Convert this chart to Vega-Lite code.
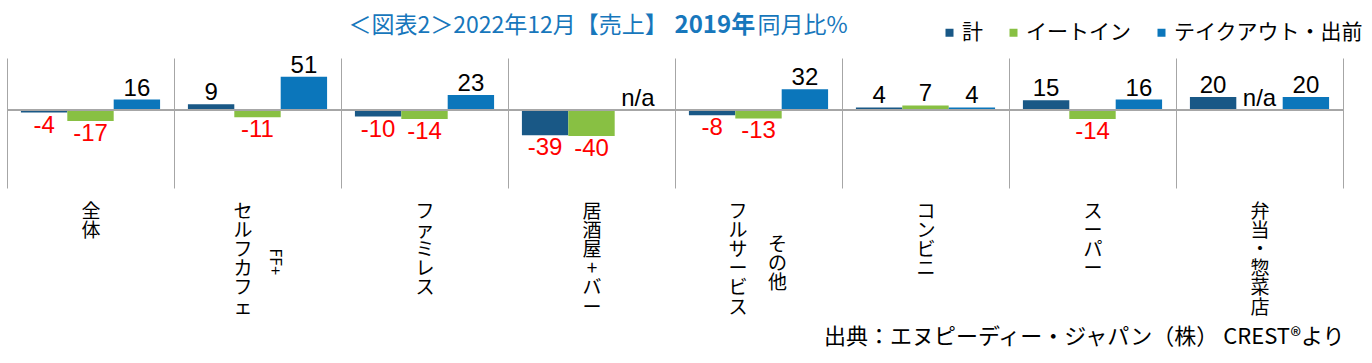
{
  "$schema": "https://vega.github.io/schema/vega-lite/v6.json",
  "width": 1336,
  "height": 130,
  "autosize": {"type": "none"},
  "padding": {"left": 7, "top": 58, "right": 29, "bottom": 175},
  "background": "white",
  "config": {"view": {"stroke": null}, "font": "Noto Sans CJK JP"},
  "data": {
    "values": [
      {"cat": "全体", "series": "計", "value": -4},
      {"cat": "全体", "series": "イートイン", "value": -17},
      {"cat": "全体", "series": "テイクアウト・出前", "value": 16},
      {"cat": "FF+セルフカフェ", "series": "計", "value": 9},
      {"cat": "FF+セルフカフェ", "series": "イートイン", "value": -11},
      {"cat": "FF+セルフカフェ", "series": "テイクアウト・出前", "value": 51},
      {"cat": "ファミレス", "series": "計", "value": -10},
      {"cat": "ファミレス", "series": "イートイン", "value": -14},
      {"cat": "ファミレス", "series": "テイクアウト・出前", "value": 23},
      {"cat": "居酒屋+バー", "series": "計", "value": -39},
      {"cat": "居酒屋+バー", "series": "イートイン", "value": -40},
      {"cat": "居酒屋+バー", "series": "テイクアウト・出前", "value": null},
      {"cat": "その他フルサービス", "series": "計", "value": -8},
      {"cat": "その他フルサービス", "series": "イートイン", "value": -13},
      {"cat": "その他フルサービス", "series": "テイクアウト・出前", "value": 32},
      {"cat": "コンビニ", "series": "計", "value": 4},
      {"cat": "コンビニ", "series": "イートイン", "value": 7},
      {"cat": "コンビニ", "series": "テイクアウト・出前", "value": 4},
      {"cat": "スーパー", "series": "計", "value": 15},
      {"cat": "スーパー", "series": "イートイン", "value": -14},
      {"cat": "スーパー", "series": "テイクアウト・出前", "value": 16},
      {"cat": "弁当・惣菜店", "series": "計", "value": 20},
      {"cat": "弁当・惣菜店", "series": "イートイン", "value": null},
      {"cat": "弁当・惣菜店", "series": "テイクアウト・出前", "value": 20}
    ]
  },
  "transform": [
    {"calculate": "datum.value == null ? 'n/a' : '' + datum.value", "as": "txt"},
    {"calculate": "datum.value == null ? 0 : datum.value", "as": "ypos"}
  ],
  "layer": [
    {
      "mark": {"type": "bar"},
      "encoding": {
        "x": {
          "field": "cat", "type": "nominal", "sort": null,
          "scale": {"paddingInner": 0, "paddingOuter": 0},
          "axis": {
            "orient": "bottom",
            "title": "出典：エヌピーディー・ジャパン（株） CREST®より",
            "titleFont": "Noto Sans CJK JP",
            "titleFontSize": 22,
            "titleFontWeight": "normal",
            "titleColor": "#000000",
            "titleX": 1337,
            "titleY": 155,
            "titleAlign": "right",
            "titleBaseline": "alphabetic",
            "titleAngle": 0,
            "domain": false,
            "ticks": false,
            "grid": true,
            "gridColor": "#a6a6a6",
            "gridWidth": 1,
            "tickBand": "extent",
            "labelAngle": 0,
            "labelAlign": "center",
            "labelBaseline": "top",
            "labelFont": "Noto Sans CJK JP",
            "labelFontSize": 19,
            "labelLineHeight": 19.2,
            "labelPadding": 14,
            "labelColor": "#000000",
            "labelOverlap": false,
            "labelLimit": 0,
            "labelBound": false,
            "labelExpr": "split(replace(replace(datum.label, 'FF+', ''), 'その他', ''), '')",
            "labelOffset": {
              "condition": [
                {"test": "datum.value == 'FF+セルフカフェ'", "value": -15},
                {"test": "datum.value == 'その他フルサービス'", "value": -21}
              ],
              "value": 0
            }
          }
        },
        "xOffset": {
          "field": "series", "type": "nominal",
          "sort": ["計", "イートイン", "テイクアウト・出前"],
          "scale": {"paddingInner": 0, "paddingOuter": 0.3}
        },
        "y": {
          "field": "value", "type": "quantitative",
          "scale": {"domain": [-120, 80], "nice": false},
          "axis": {
            "orient": "left",
            "domain": false, "ticks": false, "labels": false, "grid": false,
            "title": "2019年",
            "titleAngle": 0,
            "titleX": 667,
            "titleY": -26,
            "titleAlign": "left",
            "titleBaseline": "alphabetic",
            "titleFont": "Noto Sans CJK JP",
            "titleFontSize": 24,
            "titleFontWeight": "bold",
            "titleColor": "#1777BC"
          }
        },
        "color": {
          "field": "series", "type": "nominal",
          "scale": {"domain": ["計", "イートイン", "テイクアウト・出前"], "range": ["#195886", "#88C043", "#0B76BB"]},
          "legend": {
            "orient": "none",
            "legendX": 932,
            "legendY": -36,
            "direction": "horizontal",
            "title": null,
            "symbolType": "square",
            "symbolSize": 64,
            "symbolStrokeWidth": 0,
            "labelFont": "Noto Sans CJK JP",
            "labelFontSize": 21,
            "labelColor": "#000000",
            "labelOffset": 2,
            "columnPadding": 20,
            "padding": 0,
            "labelLimit": 0
          }
        }
      }
    },
    {
      "transform": [{"filter": "datum.value == null || datum.value >= 0"}],
      "mark": {"type": "text", "baseline": "alphabetic", "dy": -4, "font": "Liberation Sans", "fontSize": 24, "color": "#000000"},
      "encoding": {
        "x": {
          "field": "cat", "type": "nominal", "sort": null,
          "axis": {
            "orient": "bottom",
            "title": null, "domain": false, "ticks": false, "grid": false,
            "labelExpr": "datum.label == 'FF+セルフカフェ' ? 'FF+' : ''",
            "labelAngle": 90,
            "labelAlign": "left",
            "labelBaseline": "middle",
            "labelFont": "Noto Sans CJK JP",
            "labelFontSize": 16,
            "labelPadding": 60,
            "labelOffset": 17,
            "labelOverlap": false,
            "labelBound": false,
            "labelColor": "#000000"
          }
        },
        "xOffset": {"field": "series", "type": "nominal", "sort": ["計", "イートイン", "テイクアウト・出前"]},
        "y": {
          "field": "ypos", "type": "quantitative",
          "axis": {
            "orient": "right",
            "domain": false, "ticks": false, "labels": false, "grid": false,
            "title": "同月比%",
            "titleAngle": 0,
            "titleX": -586,
            "titleY": -26,
            "titleAlign": "left",
            "titleBaseline": "alphabetic",
            "titleFont": "Noto Sans CJK JP",
            "titleFontSize": 23,
            "titleFontWeight": "normal",
            "titleColor": "#1777BC"
          }
        },
        "text": {"field": "txt", "type": "nominal"}
      }
    },
    {
      "transform": [{"filter": "datum.value < 0"}],
      "mark": {"type": "text", "baseline": "top", "dy": 1, "font": "Liberation Sans", "fontSize": 24, "color": "#FF0000"},
      "encoding": {
        "x": {
          "field": "cat", "type": "nominal", "sort": null,
          "axis": {
            "orient": "bottom",
            "title": "＜図表2＞2022年12月【売上】",
            "titleFont": "Noto Sans CJK JP",
            "titleFontSize": 23,
            "titleFontWeight": "normal",
            "titleColor": "#1777BC",
            "titleX": 341,
            "titleY": -156,
            "titleAlign": "left",
            "titleBaseline": "alphabetic",
            "titleAngle": 0,
            "domain": false, "ticks": false, "grid": false,
            "labelExpr": "datum.label == 'その他フルサービス' ? split('その他', '') : ''",
            "labelAngle": 0,
            "labelAlign": "center",
            "labelBaseline": "top",
            "labelFont": "Noto Sans CJK JP",
            "labelFontSize": 19,
            "labelLineHeight": 19.2,
            "labelPadding": 47,
            "labelOffset": 19,
            "labelOverlap": false,
            "labelBound": false,
            "labelColor": "#000000"
          }
        },
        "xOffset": {"field": "series", "type": "nominal", "sort": ["計", "イートイン", "テイクアウト・出前"]},
        "y": {"field": "ypos", "type": "quantitative", "axis": null},
        "text": {"field": "txt", "type": "nominal"}
      }
    },
    {
      "mark": {"type": "rule", "color": "#a6a6a6", "strokeWidth": 1},
      "encoding": {"y": {"datum": 0, "type": "quantitative", "axis": null}}
    }
  ],
  "resolve": {
    "scale": {"x": "shared", "y": "shared"},
    "axis": {"x": "independent", "y": "independent"}
  }
}
